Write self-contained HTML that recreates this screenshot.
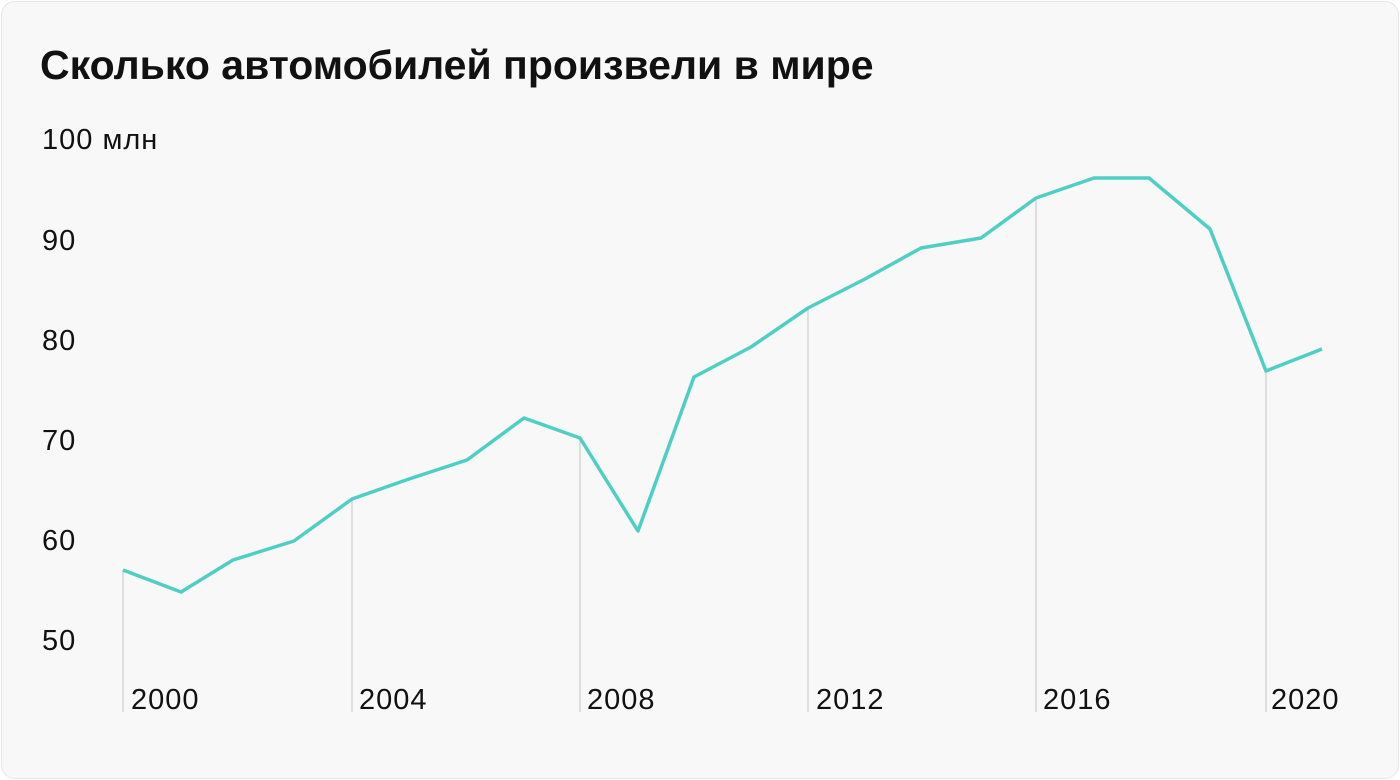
<!DOCTYPE html>
<html><head><meta charset="utf-8"><style>
html,body{margin:0;padding:0;background:#fff;}
.card{position:absolute;left:1px;top:1px;width:1396px;height:776px;background:#f8f8f8;border:1px solid #e6e6e6;border-radius:14px;}
svg{position:absolute;left:0;top:0;}
text{font-family:"Liberation Sans",sans-serif;}
</style></head><body>
<div class="card"></div>
<svg width="1400" height="780">
<text x="40" y="79" font-size="41" font-weight="bold" fill="#111">Сколько автомобилей произвели в мире</text>
<g font-size="29" fill="#111" letter-spacing="1">
<text x="42" y="149">100 млн</text>
<text x="42" y="250">90</text>
<text x="42" y="350">80</text>
<text x="42" y="450">70</text>
<text x="42" y="550">60</text>
<text x="42" y="650">50</text>
<text x="131" y="709">2000</text>
<text x="359" y="709">2004</text>
<text x="587" y="709">2008</text>
<text x="816" y="709">2012</text>
<text x="1043" y="709">2016</text>
<text x="1271" y="709">2020</text>
</g>
<g stroke="#d6d6d6" stroke-width="1.5">
<line x1="123" y1="570" x2="123" y2="712"/>
<line x1="352" y1="499" x2="352" y2="712"/>
<line x1="580" y1="438" x2="580" y2="712"/>
<line x1="808" y1="308" x2="808" y2="712"/>
<line x1="1036" y1="198" x2="1036" y2="712"/>
<line x1="1266" y1="371" x2="1266" y2="712"/>
</g>
<polyline fill="none" stroke="#4ecfc4" stroke-width="3.5" stroke-linejoin="round" points="123,570 181,592 233,560 294,541 352,499 409,479 467,460 524,418 580,438 638,531 694,377 751,347 808,308 865,279 921,248 981,238 1036,198 1094,178 1149,178 1210,229 1266,371 1322,349"/>
</svg>
</body></html>
